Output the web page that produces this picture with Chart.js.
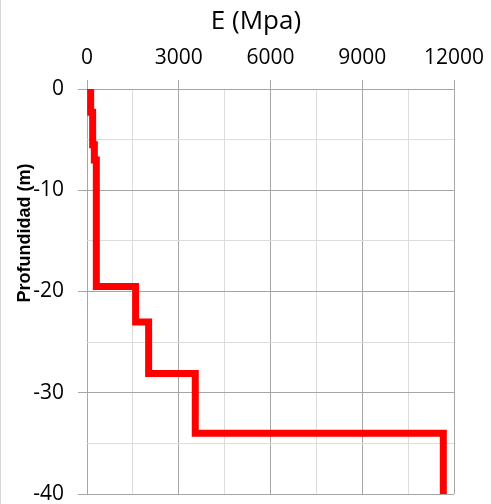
<!DOCTYPE html>
<html>
<head>
<meta charset="utf-8">
<script src="https://cdn.jsdelivr.net/npm/chart.js@4.4.1/dist/chart.umd.min.js"></script>
<style>
  html, body { margin: 0; padding: 0; background: #fff; }
  #wrap { width: 491px; height: 504px; }
</style>
</head>
<body>
<div id="wrap"><canvas id="perfil"></canvas></div>
<script>
  // profundidad (m) del techo de cada capa y módulo E (MPa)
  const profundidad = [0, -2.3, -5.5, -7.0, -19.5, -23.0, -28.1, -34.0, -40];
  const moduloE = [120, 185, 240, 305, 1590, 2015, 3540, 11650, 11650];
  const ticksX = [0, 3000, 6000, 9000, 12000];
  const ticksY = [0, -10, -20, -30, -40];

  const fuente = '"Open Sans", "Liberation Sans", sans-serif';
  const gridMayor = '#a6a6a6';
  const gridMenor = '#dcdcdc';

  // titulos y borde izquierdo dibujados a mano
  const titulos = {
    id: 'titulos',
    afterDraw(chart) {
      const ctx = chart.ctx;
      ctx.save();
      ctx.strokeStyle = '#d9d9d9';
      ctx.lineWidth = 1;
      ctx.beginPath();
      ctx.moveTo(0.5, 0);
      ctx.lineTo(0.5, 504);
      ctx.stroke();

      ctx.fillStyle = '#000';
      ctx.textAlign = 'center';
      ctx.textBaseline = 'middle';
      ctx.font = '26px ' + fuente;
      ctx.fillText('E (Mpa)', 256, 22);

      ctx.translate(25, 233);
      ctx.rotate(-Math.PI / 2);
      ctx.font = 'bold 18px "Liberation Sans", sans-serif';
      ctx.fillText('Profundidad (m)', 0, 0);
      ctx.restore();
    }
  };

  new Chart(document.getElementById('perfil'), {
    type: 'line',
    data: {
      datasets: [{
        data: moduloE.map((e, i) => ({ x: e, y: profundidad[i] })),
        borderColor: '#ff0000',
        borderWidth: 7,
        borderJoinStyle: 'miter',
        stepped: 'after',
        pointRadius: 0,
        fill: false
      }]
    },
    options: {
      responsive: true,
      maintainAspectRatio: false,
      animation: false,
      layout: { padding: { left: 0, right: 37, top: 0, bottom: 10 } },
      plugins: { legend: { display: false }, tooltip: { enabled: false } },
      scales: {
        x: {
          type: 'linear',
          position: 'top',
          min: 0,
          max: 12000,
          afterFit: s => { s.height = 89; s.paddingLeft = 0; s.paddingRight = 0; },
          ticks: {
            stepSize: 1500,
            padding: 9,
            maxRotation: 0,
            minRotation: 0,
            autoSkip: false,
            color: '#000',
            font: { family: fuente, size: 21 },
            callback: v => ticksX.includes(v) ? String(v) : ''
          },
          grid: {
            color: c => ticksX.includes(c.tick.value) ? gridMayor : gridMenor,
            tickColor: c => ticksX.includes(c.tick.value) ? gridMayor : 'rgba(0,0,0,0)',
            tickLength: 9,
            lineWidth: 1
          },
          border: { display: false }
        },
        y: {
          type: 'linear',
          min: -40,
          max: 0,
          afterFit: s => { s.width = 87; s.paddingTop = 0; s.paddingBottom = 0; },
          ticks: {
            stepSize: 5,
            padding: 14,
            autoSkip: false,
            color: '#000',
            font: { family: fuente, size: 21 },
            callback: v => ticksY.includes(v) ? String(v) : ''
          },
          grid: {
            color: c => ticksY.includes(c.tick.value) ? gridMayor : gridMenor,
            tickColor: c => ticksY.includes(c.tick.value) ? gridMayor : 'rgba(0,0,0,0)',
            tickLength: 9,
            lineWidth: 1
          },
          border: { display: false }
        }
      }
    },
    plugins: [titulos]
  });
</script>
</body>
</html>
